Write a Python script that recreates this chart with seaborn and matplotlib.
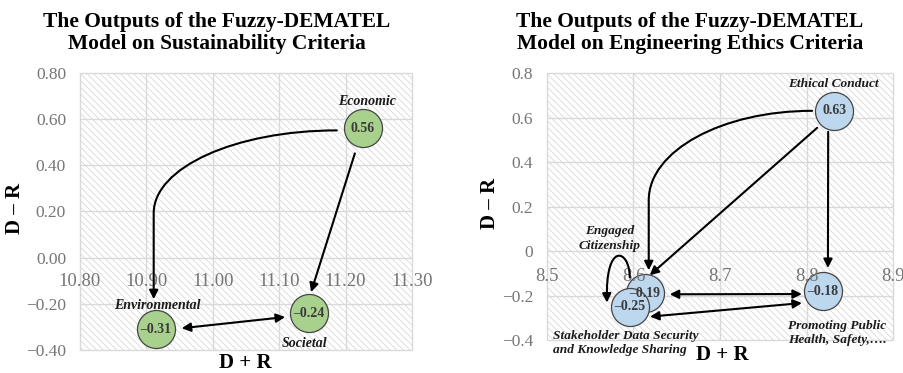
import numpy as np
import matplotlib
matplotlib.use("Agg")
import matplotlib.pyplot as plt
import seaborn as sns
from matplotlib.patches import FancyArrowPatch, Rectangle
from matplotlib.path import Path
from matplotlib.ticker import FuncFormatter

# ---------------- data ----------------
sus_labels = ["Economic", "Societal", "Environmental"]
sus_dplus = [11.226, 11.145, 10.914]
sus_dminus = [0.56, -0.24, -0.31]
sus_xticks = [10.80, 10.90, 11.00, 11.10, 11.20, 11.30]
sus_yticks = [-0.40, -0.20, 0.00, 0.20, 0.40, 0.60, 0.80]

eth_labels = ["Ethical Conduct", "Promoting Public\nHealth, Safety,….",
              "Engaged\nCitizenship", "Stakeholder Data Security\nand Knowledge Sharing"]
eth_dplus = [8.832, 8.819, 8.613, 8.596]
eth_dminus = [0.63, -0.18, -0.19, -0.25]
eth_xticks = [8.5, 8.6, 8.7, 8.8, 8.9]
eth_yticks = [-0.4, -0.2, 0.0, 0.2, 0.4, 0.6, 0.8]

# ---------------- style ----------------
sns.set_theme(style="white")
plt.rcParams["font.family"] = ["Liberation Serif", "DejaVu Serif"]
plt.rcParams["hatch.linewidth"] = 0.5

W, H = 904, 373
fig = plt.figure(figsize=(W / 100, H / 100), dpi=100)


def rect(l, t, r, b):
    return [l / W, 1 - b / H, (r - l) / W, (b - t) / H]


ax1 = fig.add_axes(rect(80, 73, 412, 350))
ax2 = fig.add_axes(rect(547, 73, 893, 340))

TICK_C = "#767676"
GRID_C = "#d9d9d9"


def minus(s):
    return s.replace("-", "\u2212")


def setup(ax, xt, yt, xfmt, yfmt, xpad):
    ax.set_xlim(xt[0], xt[-1])
    ax.set_ylim(yt[0], yt[-1])
    ax.set_xlabel("")
    ax.set_ylabel("")
    ax.set_facecolor("white")
    ax.add_patch(Rectangle((0, 0), 1, 1, transform=ax.transAxes, facecolor="white",
                           edgecolor="#d2d2d2", hatch="\\\\\\\\\\", lw=0, zorder=0))
    for s in ax.spines.values():
        s.set_visible(False)
    ax.spines["bottom"].set_position(("data", 0))
    ax.set_xticks(xt)
    ax.set_yticks(yt)
    ax.xaxis.set_major_formatter(FuncFormatter(xfmt))
    ax.yaxis.set_major_formatter(FuncFormatter(yfmt))
    ax.tick_params(axis="x", length=0, pad=xpad, labelsize=13.5, labelcolor=TICK_C)
    ax.tick_params(axis="y", length=0, pad=10, labelsize=12.5, labelcolor=TICK_C)
    ax.grid(False)
    ax.hlines(yt, xt[0], xt[-1], color=GRID_C, lw=1, zorder=0.6, clip_on=False)
    ax.vlines(xt, yt[0], yt[-1], color=GRID_C, lw=1, zorder=0.6, clip_on=False)
    ax.xaxis.set_zorder(2.6)


def disp(ax, x, y, dx=0.0, dy=0.0):
    X, Y = ax.transData.transform((x, y))
    return (X + dx, Y - dy)


def draw_path(ax, pts, codes, style):
    data = ax.transData.inverted().transform(np.array(pts, float))
    ax.add_patch(FancyArrowPatch(path=Path(data, codes), arrowstyle=style,
                                 mutation_scale=13, lw=1.5, color="black",
                                 transform=ax.transData, zorder=3))


def straight(ax, src, dst, so, to, style="-|>"):
    draw_path(ax, [disp(ax, *src, *so), disp(ax, *dst, *to)],
              [Path.MOVETO, Path.LINETO], style)


def elbow(ax, src, dst, so, to, knee):
    S = disp(ax, *src, *so)
    T = disp(ax, *dst, *to)
    ky = S[1] + knee * (T[1] - S[1])
    a = S[0] - T[0]
    b = S[1] - ky
    k = 0.5523
    pts = [S, (S[0] - k * a, S[1]), (T[0], ky + k * b), (T[0], ky), T]
    codes = [Path.MOVETO, Path.CURVE4, Path.CURVE4, Path.CURVE4, Path.LINETO]
    draw_path(ax, pts, codes, "-|>")


def loop(ax, src, dst, so, to):
    S = disp(ax, *src, *so)
    E = disp(ax, *dst, *to)
    pts = [S, (S[0], S[1] + 28), (E[0] - 2, E[1] + 62), E]
    codes = [Path.MOVETO, Path.CURVE4, Path.CURVE4, Path.CURVE4]
    draw_path(ax, pts, codes, "-|>")


def val_fmt(v):
    return f"{v:.2f}".replace("-", "\u2013")


# ---------------- left chart ----------------
sns.scatterplot(x=sus_dplus, y=sus_dminus, s=750, color="#A9D18E", edgecolor="#454545",
                linewidth=0.9, ax=ax1, zorder=2, legend=False)
setup(ax1, sus_xticks, sus_yticks, lambda v, p: f"{v:.2f}", lambda v, p: minus(f"{v:.2f}"), 11)
for x, y in zip(sus_dplus, sus_dminus):
    ax1.text(x, y, val_fmt(y), ha="center", va="center", fontsize=10, weight="bold",
             color="#3a3a3a", zorder=5)
sus_off = [(4, -27), (-5, 30), (2, -24)]
for (lab, x, y), (dx, dy) in zip(zip(sus_labels, sus_dplus, sus_dminus), sus_off):
    ax1.annotate(lab, (x, y), xytext=(dx * 0.72, -dy * 0.72), textcoords="offset points",
                 ha="center", va="center", fontsize=10, weight="bold", style="italic",
                 color="#1a1a1a", zorder=6)

econ = (sus_dplus[0], sus_dminus[0])
soc = (sus_dplus[1], sus_dminus[1])
env = (sus_dplus[2], sus_dminus[2])
elbow(ax1, econ, env, (-26, 2), (-2, -30), 0.49)
straight(ax1, econ, soc, (-8, 25), (2, -21))
straight(ax1, env, soc, (26, -1), (-24, 4), "<|-|>")

# ---------------- right chart ----------------
sns.scatterplot(x=eth_dplus, y=eth_dminus, s=750, color="#BDD7EE", edgecolor="#454545",
                linewidth=0.9, ax=ax2, zorder=2, legend=False)
setup(ax2, eth_xticks, eth_yticks, lambda v, p: f"{v:.1f}",
      lambda v, p: "0" if abs(v) < 1e-9 else minus(f"{v:.1f}"), 12)
for x, y in zip(eth_dplus, eth_dminus):
    ax2.text(x, y, val_fmt(y), ha="center", va="center", fontsize=10, weight="bold",
             color="#3a3a3a", zorder=5)
eth_off = [(-1, -27, "center"), (-35, 42, "left"), (-35, -55, "center"), (-77, 36.5, "left")]
for (lab, x, y), (dx, dy, ha) in zip(zip(eth_labels, eth_dplus, eth_dminus), eth_off):
    ax2.annotate(lab, (x, y), xytext=(dx * 0.72, -dy * 0.72), textcoords="offset points",
                 ha=ha, va="center", fontsize=9.6, weight="bold", style="italic",
                 color="#1a1a1a", zorder=6, linespacing=1.3)

eth = (eth_dplus[0], eth_dminus[0])
prom = (eth_dplus[1], eth_dminus[1])
eng = (eth_dplus[2], eth_dminus[2])
stk = (eth_dplus[3], eth_dminus[3])
elbow(ax2, eth, eng, (-22, 0), (4, -23), 0.56)
straight(ax2, eth, eng, (-17, 17), (5, -18))
straight(ax2, eth, prom, (-6, 21), (5, -23))
straight(ax2, eng, prom, (25, 1), (-21, 3), "<|-|>")
straight(ax2, prom, stk, (-21, 12), (20, 10), "<|-|>")
loop(ax2, eng, stk, (-15, -16), (-23, -4))

# ---------------- titles & axis labels ----------------
tkw = dict(ha="center", va="center", fontsize=15.5, weight="bold", color="black", linespacing=1.2)
fig.text(217 / W, 1 - 33 / H, "The Outputs of the Fuzzy-DEMATEL\nModel on Sustainability Criteria", **tkw)
fig.text(690 / W, 1 - 33 / H, "The Outputs of the Fuzzy-DEMATEL\nModel on Engineering Ethics Criteria", **tkw)
lkw = dict(ha="center", va="center", fontsize=15, weight="bold", color="black")
fig.text(245 / W, 1 - 363 / H, "D + R", **lkw)
fig.text(722 / W, 1 - 355 / H, "D + R", **lkw)
fig.text(15 / W, 1 - 208 / H, "D \u2013 R", rotation=90, **lkw)
fig.text(490 / W, 1 - 203 / H, "D \u2013 R", rotation=90, **lkw)

fig.savefig("out.png", dpi=100)
